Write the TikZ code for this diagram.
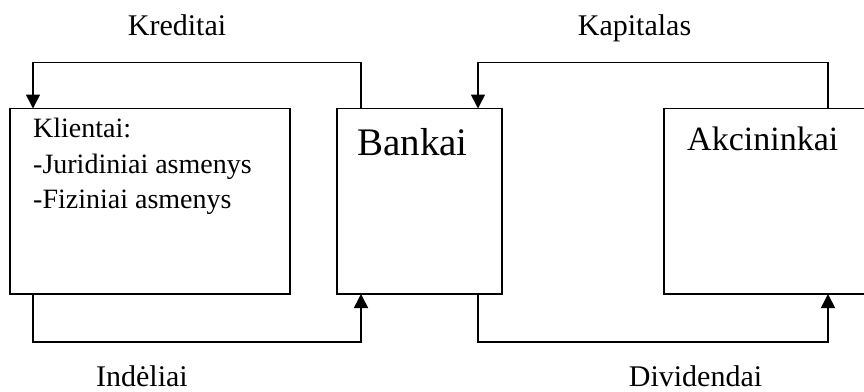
\documentclass[tikz,border=0pt]{standalone}
\usepackage{fontspec}
\setmainfont{Liberation Serif}
\usetikzlibrary{arrows.meta}

\tikzset{
  box/.style={draw, line width=1.6pt, inner sep=0pt, outer sep=0pt, anchor=north west},
  flow/.style={draw, line width=1.6pt, -{Triangle[width=14pt,length=14pt]}},
  label/.style={inner sep=0pt, anchor=base, font=\fontsize{30}{36}\selectfont},
  boxtext/.style={inner sep=0pt, anchor=base west},
}

\begin{document}
\begin{tikzpicture}[x=1pt,y=-1pt]
  \clip (0,0) rectangle (864,391);

  % the three boxes
  \node[box, minimum width=280pt, minimum height=185.5pt] (left)  at (10,108.5) {};
  \node[box, minimum width=165pt, minimum height=185.5pt] (mid)   at (337,108.5) {};
  \node[box, minimum width=206pt, minimum height=185.5pt] (right) at (664,108.5) {};

  % box contents
  \node[boxtext, font=\fontsize{28}{34}\selectfont] (kl1) at (33,137) {Klientai:};
  \node[boxtext, font=\fontsize{28}{34}\selectfont] (kl2) at (33,173) {-Juridiniai asmenys};
  \node[boxtext, font=\fontsize{28}{34}\selectfont] (kl3) at (33,208.5) {-Fiziniai asmenys};
  \node[boxtext, font=\fontsize{39}{46}\selectfont] (bk) at (357,155) {Bankai};
  \node[boxtext, font=\fontsize{34}{40}\selectfont] (ak) at (687,150) {Akcininkai};

  % flows between boxes
  \draw[flow] ([xshift=24pt]mid.north west) -- ++(0,-46) -| ([xshift=23pt]left.north west);
  \draw[flow] ([xshift=164pt]right.north west) -- ++(0,-46) -| ([xshift=141pt]mid.north west);
  \draw[flow] ([xshift=23pt]left.south west) -- ++(0,48) -| ([xshift=24pt]mid.south west);
  \draw[flow] ([xshift=141pt]mid.south west) -- ++(0,48) -| ([xshift=164pt]right.south west);

  % flow labels
  \node[label] (kred) at (177,35) {Kreditai};
  \node[label] (kap)  at (634.5,35) {Kapitalas};
  \node[label] (ind)  at (142,386) {Indėliai};
  \node[label] (div)  at (695.5,386) {Dividendai};
\end{tikzpicture}
\end{document}
